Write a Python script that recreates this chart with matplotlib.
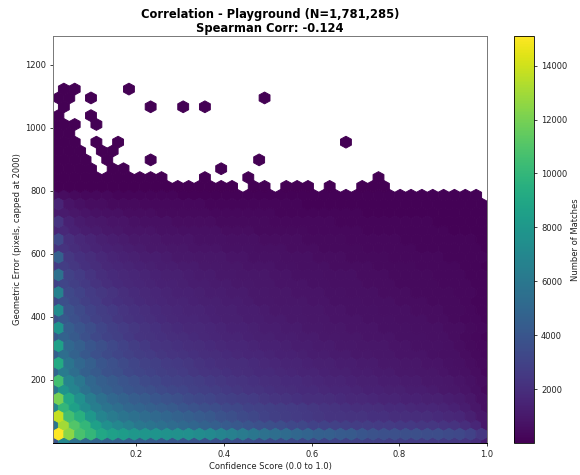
import numpy as np
import matplotlib
matplotlib.use("Agg")
import matplotlib.pyplot as plt

title = "Correlation - Playground (N=1,781,285)\nSpearman Corr: -0.124"
x_label = "Confidence Score (0.0 to 1.0)"
y_label = "Geometric Error (pixels, capped at 2000)"
cbar_label = "Number of Matches"

x_min, x_max = 0.01, 1.0
y_min, y_max = 0.0, 1292.0
grid_size = 40

# matches per hexagon in hundreds, one list per hexagon row starting at the bottom.
# even rows sit on the outer lattice (41 cells), odd rows on the inner one (40 cells)
dense_rows = [
    [40,70,55,50,48,46,45,44,43,42,41,40,39,38,37,37,36,35,35,34,33,33,32,31,31,30,30,29,29,28,28,27,27,26,26,25,25,24,23,20,12],
    [151,125,107,100,90,85,83,80,79,78,77,76,75,73,71,68,65,62,59,56,54,52,50,48,46,45,43,42,40,38,37,37,36,36,35,35,34,33,30,24],
    [60,130,110,100,85,75,70,65,60,58,55,53,51,49,47,45,43,41,39,37,36,35,33,32,30,30,29,28,27,27,26,26,25,25,24,24,23,22,20,16,10],
    [138,105,95,80,68,62,58,55,53,51,49,47,45,43,41,38,36,34,32,30,28,27,26,25,24,23,23,22,22,21,21,20,20,19,19,18,17,16,13,10],
    [70,100,85,73,64,58,54,50,48,46,44,42,40,38,36,35,33,32,30,29,28,27,26,25,24,23,22,21,20,20,19,18,18,17,16,16,15,14,12,9,6],
    [120,90,75,63,55,50,47,44,42,40,38,36,34,32,31,29,28,27,26,24,23,22,21,20,20,19,18,17,17,16,15,15,14,14,13,13,12,11,9,6],
    [60,78,68,57,50,46,43,40,38,36,34,32,31,29,28,27,25,24,23,22,21,20,19,18,18,17,16,16,15,14,14,13,13,12,12,11,10,9,8,6,4],
    [105,68,60,50,45,42,39,37,34,32,30,29,28,27,25,24,23,22,21,20,19,18,18,17,16,15,15,14,13,13,12,12,11,11,10,10,9,8,7,5],
    [50,62,54,46,42,38,36,33,31,30,28,27,26,24,23,22,21,20,19,18,18,17,16,15,15,14,13,13,12,12,11,11,10,10,9,9,8,7,6,5,3],
    [92,58,50,45,40,37,34,31,29,28,26,25,24,22,21,20,19,19,18,17,16,15,15,14,13,13,12,12,11,11,10,10,9,9,8,8,7,6,5,4],
    [46,54,47,41,37,34,31,29,27,26,24,23,22,21,20,19,18,17,16,16,15,14,14,13,12,12,11,11,10,10,9,9,8,8,8,7,6,6,5,4,3],
    [85,50,45,40,36,33,30,27,25,23,22,21,20,19,18,17,16,16,15,14,14,13,12,12,11,11,10,10,9,9,9,8,8,7,7,7,6,5,4,3],
    [42,47,42,37,33,30,28,25,23,22,21,20,19,18,17,16,15,15,14,13,13,12,12,11,11,10,10,9,9,8,8,8,7,7,7,6,6,5,4,3,2],
    [78,44,39,35,31,28,26,24,22,21,19,18,17,17,16,15,14,14,13,12,12,11,11,10,10,9,9,8,8,8,7,7,7,6,6,6,5,5,4,3],
    [38,41,37,33,29,27,24,22,21,20,18,17,16,16,15,14,13,13,12,12,11,11,10,10,9,9,8,8,8,7,7,7,6,6,6,5,5,4,3,3,2],
    [72,38,34,30,27,25,23,21,20,18,17,16,15,15,14,13,13,12,12,11,10,10,10,9,9,8,8,7,7,7,6,6,6,5,5,5,4,4,3,2],
    [34,36,32,28,26,23,21,20,18,17,16,15,15,14,13,13,12,12,11,10,10,9,9,9,8,8,7,7,7,6,6,6,5,5,5,4,4,4,3,2,2],
    [66,33,30,26,24,22,20,18,17,16,15,14,14,13,12,12,11,11,10,10,9,9,8,8,8,7,7,6,6,6,5,5,5,4,4,4,4,3,3,2],
    [30,31,28,25,22,20,18,17,16,15,14,14,13,12,12,11,11,10,10,9,9,8,8,8,7,7,6,6,6,5,5,5,4,4,4,4,3,3,3,2,2],
    [56,29,26,23,20,18,17,16,15,14,13,13,12,11,11,10,10,9,9,9,8,8,7,7,7,6,6,6,5,5,5,4,4,4,4,3,3,3,2,2],
    [26,27,24,21,19,17,16,15,14,13,12,12,11,11,10,10,9,9,8,8,8,7,7,6,6,6,5,5,5,5,4,4,4,4,3,3,3,3,2,2,1],
    [46,24,21,19,17,15,14,13,12,12,11,10,10,9,9,9,8,8,7,7,7,6,6,6,5,5,5,4,4,4,4,3,3,3,3,3,2,2,2,2],
    [22,22,19,17,15,14,13,12,11,10,10,9,9,8,8,8,7,7,7,6,6,6,5,5,5,4,4,4,4,3,3,3,3,3,2,2,2,2,2,2,1],
    [33,20,17,15,13,12,11,10,10,9,8,8,8,7,7,7,6,6,6,5,5,5,5,4,4,4,4,3,3,3,3,3,2,2,2,2,2,2,2,1],
    [16,17,14,12,11,10,9,8,8,8,7,7,6,6,6,6,5,5,5,4,4,4,4,4,3,3,3,3,3,2,2,2,2,2,2,2,2,1,1,1,1],
    [23,14,11,10,9,8,8,7,6,6,6,5,5,5,5,4,4,4,4,4,3,3,3,3,3,3,2,2,2,2,2,2,2,2,2,1,1,1,1,1],
    [11,11,9,8,7,6,6,5,5,5,4,4,4,4,4,3,3,3,3,3,3,2,2,2,2,2,2,2,2,1,1,1,1,1,1,1,1,1,1,1,1],
    [15,8,6,5,5,4,4,4,3,3,3,3,3,3,2,2,2,2,2,2,2,2,2,1,1,1,1,1,1,1,1,1,1,1,1,1,1,1,1,1],
    [6,5,4,3,3,3,2,2,2,2,2,2,1,1,1,1,1,1,1,1,1,1,1,1,1,1,1,1,1,1,1,1,1,1,1,1,1,1,1,1,0],
]

# rows above 800 are sparse, only the occupied cells per row are listed
sparse_rows = [
    [0,1,2,3,4,5,6,7,8,9,10,11,12,13,14,15,16,18,19,21,22,23,25,28,29,30],
    [0,1,2,3,4,5,6,7,8,9,10,14,18,30],
    [0,1,2,3,5,6,15],
    [0,1,2,3,5,9,19],
    [0,1,2,4,5],
    [0,1,2,4,6,27],
    [0,1],
    [0,1,2,4],
    [0,3],
    [1,9,12,14],
    [0,1,3,19],
    [1,2,7],
]
sparse_count = 3  # matches in one of those outlier cells

cell_x = (x_max - x_min) / grid_size
cell_y = (y_max - y_min) / int(grid_size / np.sqrt(3))

xs, ys, counts = [], [], []
for k, row in enumerate(dense_rows):
    offset = 0.5 if k % 2 else 0.0
    for i, val in enumerate(row):
        if val > 0:
            xs.append(x_min + (i + offset) * cell_x)
            ys.append(y_min + k * cell_y / 2)
            counts.append(val * 100)
for n, row in enumerate(sparse_rows):
    k = len(dense_rows) + n
    offset = 0.5 if k % 2 else 0.0
    for i in row:
        xs.append(x_min + (i + offset) * cell_x)
        ys.append(y_min + k * cell_y / 2)
        counts.append(sparse_count)

fig = plt.figure(figsize=(5.8, 4.75), dpi=100)
ax = fig.add_axes([53 / 580, 1 - 443 / 475, 434 / 580, 407 / 475])
hb = ax.hexbin(xs, ys, C=counts, gridsize=grid_size, extent=(x_min, x_max, y_min, y_max),
               reduce_C_function=np.sum, cmap="viridis", vmin=1, vmax=15100, linewidths=0.7)
ax.set_xlim(x_min, x_max)
ax.set_ylim(y_min, y_max)
ax.set_xticks([0.2, 0.4, 0.6, 0.8, 1.0])
ax.set_yticks([200, 400, 600, 800, 1000, 1200])
ax.tick_params(labelsize=6, length=2.5, width=0.6, pad=2.5, colors="#222222")
for name in ["left", "top", "right"]:
    ax.spines[name].set_linewidth(0.7)
    ax.spines[name].set_color("#777777")
ax.spines["bottom"].set_linewidth(0.7)
ax.set_xlabel(x_label, fontsize=6, labelpad=2.5, color="#222222")
ax.set_ylabel(y_label, fontsize=6, labelpad=2, color="#222222")
ax.set_title(title, fontsize=8.3, fontweight="bold", pad=3, linespacing=1.1)

cax = fig.add_axes([514 / 580, 1 - 443 / 475, 20 / 580, 407 / 475])
cb = fig.colorbar(hb, cax=cax)
cb.set_ticks([2000, 4000, 6000, 8000, 10000, 12000, 14000])
cb.ax.tick_params(labelsize=6, length=2.5, width=0.6, pad=2.5, colors="#222222")
cb.outline.set_linewidth(0.6)
cb.set_label(cbar_label, fontsize=6, labelpad=3, color="#222222")

fig.savefig("out.png", dpi=100)
